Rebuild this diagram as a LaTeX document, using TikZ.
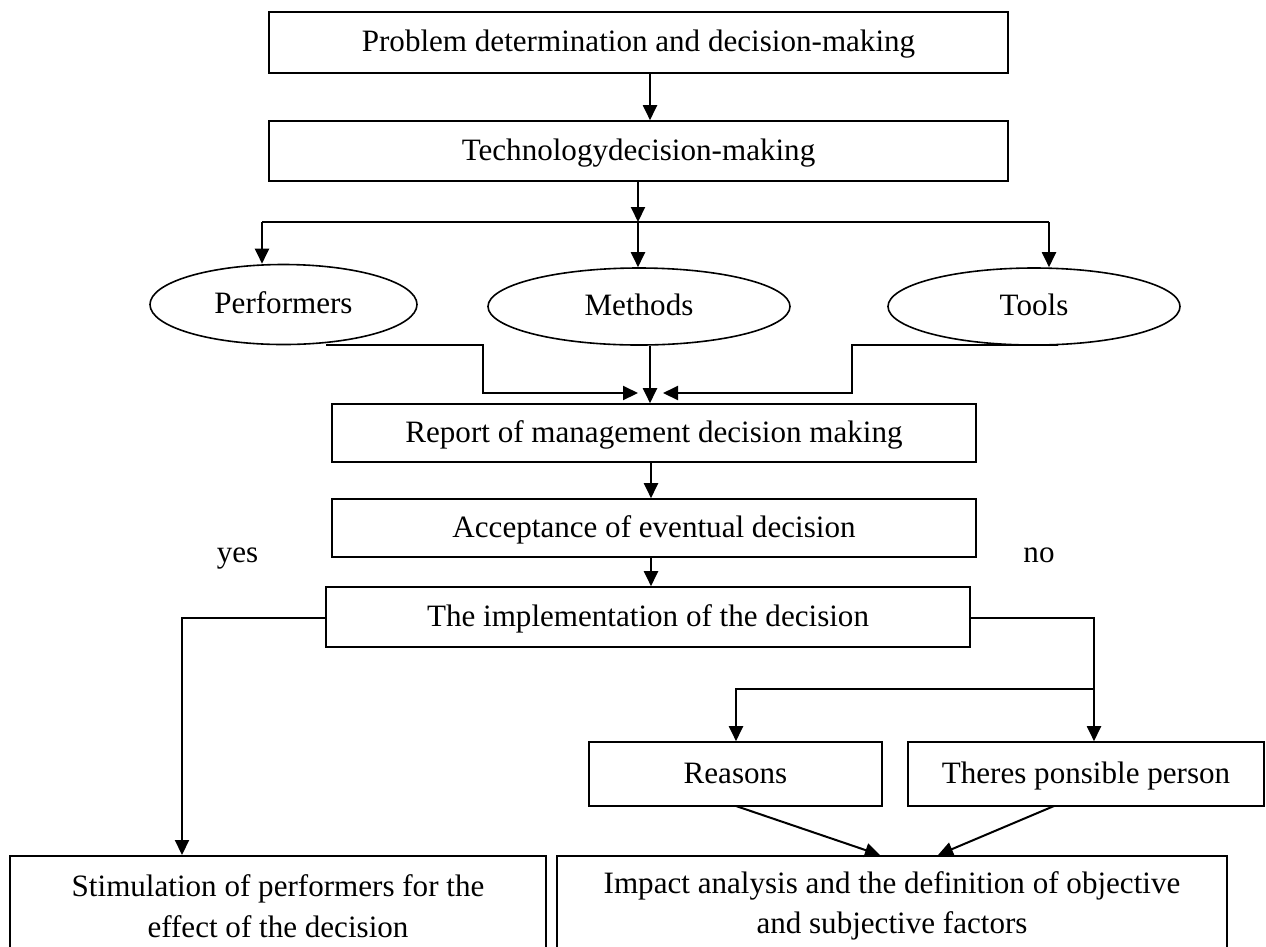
\documentclass[tikz,border=0pt]{standalone}
\usepackage{fontspec}
\setmainfont{Liberation Serif}
\usetikzlibrary{arrows.meta,shapes.geometric,calc}
\begin{document}
\begin{tikzpicture}[x=0.5bp,y=-0.5bp,
  base/.style={line width=0.8bp,inner sep=0pt,font=\fontsize{15.6}{20.5}\selectfont},
  box/.style={base,draw,text height=11.6bp,text depth=2.4bp},
  box2/.style={base,draw,align=center},
  oval/.style={base,draw,ellipse,text height=11.4bp,text depth=2.6bp},
  conn/.style={line width=1bp},
  arr/.style={conn,-{Triangle[length=7.5bp,width=7bp]}},
  lbl/.style={base,text height=11.6bp,text depth=2.4bp}]
\useasboundingbox (0,0) rectangle (1266,946);
% nodes
\node[box,minimum width=369.5bp,minimum height=30.5bp] (b1) at (638.5,42.5) {Problem determination and decision-making};
\node[box,minimum width=369.5bp,minimum height=30bp] (b2) at (638.5,151) {Technologydecision-making};
\node[oval,minimum width=133.5bp,minimum height=40bp] (perf) at (283.5,304.5) {Performers};
\node[oval,minimum width=151bp,minimum height=38.5bp] (meth) at (639,306.5) {Methods};
\node[oval,minimum width=146bp,minimum height=38.5bp] (tools) at (1034,306.5) {Tools};
\node[box,minimum width=322bp,minimum height=29bp] (rep) at (654,433) {Report of management decision making};
\node[box,minimum width=322bp,minimum height=29bp] (acc) at (654,528) {Acceptance of eventual decision};
\node[box,minimum width=322bp,minimum height=30bp] (impl) at (648,617) {The implementation of the decision};
\node[box,minimum width=146.5bp,minimum height=32bp] (reas) at (735.5,774) {Reasons};
\node[box,minimum width=178bp,minimum height=32bp] (resp) at (1086,774) {Theres ponsible person};
\node[box2,anchor=north,minimum width=268bp,minimum height=50bp] (stim) at (278,855) {Stimulation of performers for the\\effect of the decision};
\node[box2,anchor=north,minimum width=335bp,minimum height=50bp] (imp) at (892,855) {Impact analysis and the definition of objective\\and subjective factors};
\node[lbl] (yes) at (237.5,553.5) {yes};
\node[lbl] (no) at (1039,553.5) {no};
% helper coordinates
\coordinate (x650) at (650,0);
\coordinate (x638) at (638,0);
\coordinate (jl) at (262,222);
\coordinate (jm) at (638,222);
\coordinate (jr) at (1049,222);
\coordinate (ps) at (326,345);
\coordinate (pa) at (483,345);
\coordinate (pb) at (483,393);
\coordinate (ml) at (638,393);
\coordinate (mx) at (650,0);
\coordinate (mr) at (663,393);
\coordinate (ts) at (1058,345);
\coordinate (ta) at (852,345);
\coordinate (tb) at (852,393);
\coordinate (x651) at (651,0);
\coordinate (il) at (182,618);
\coordinate (ir) at (1094,618);
\coordinate (br) at (1094,689);
\coordinate (bl) at (736,689);
\coordinate (rs) at (736,806);
\coordinate (re) at (880,855);
\coordinate (qs) at (1054,806);
\coordinate (qe) at (938,855);
% connectors
\draw[arr] (b1.south -| x650) -- (b2.north -| x650);
\draw[arr] (b2.south -| x638) -- (jm);
\draw[conn] (jl) -- (jr);
\draw[arr] (jl) -- (jl |- perf.north);
\draw[arr] (jm) -- (jm |- meth.north);
\draw[arr] (jr) -- (jr |- tools.north);
\draw[arr] (ps) -- (pa) -- (pb) -- (ml);
\draw[arr] (meth.south -| mx) -- (rep.north -| mx);
\draw[arr] (ts) -- (ta) -- (tb) -- (mr);
\draw[arr] (rep.south -| x651) -- (acc.north -| x651);
\draw[arr] (acc.south -| x651) -- (impl.north -| x651);
\draw[arr] (impl.west |- il) -- (il) -- (il |- stim.north);
\draw[arr] (impl.east |- ir) -- (ir) -- (ir |- resp.north);
\draw[arr] (br) -- (bl) -- (bl |- reas.north);
\draw[arr] (rs) -- (re);
\draw[arr] (qs) -- (qe);
\end{tikzpicture}
\end{document}
